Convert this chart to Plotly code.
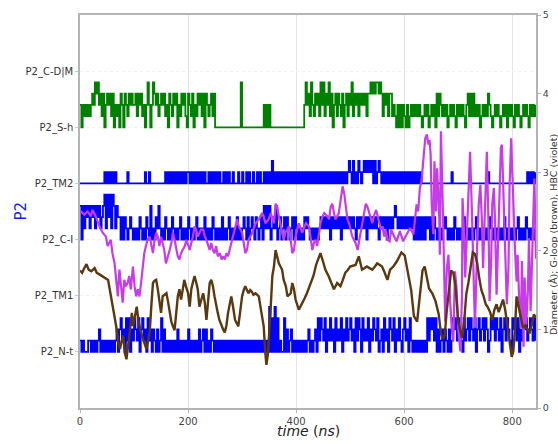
import plotly.graph_objects as go

# ---------------- data ----------------
STEP_NS = 2.5   # sampling of the state traces (ns)

STATE_LABELS = ["P2_N-t", "P2_TM1", "P2_C-I", "P2_TM2", "P2_S-h", "P2_C-D|M"]
STATE_TICKS = [0, 1, 2, 3, 4, 5]
X_TICKS = [0, 200, 400, 600, 800]
Y2_TICKS = [0, 1, 2, 3, 4, 5]

# state traces: one digit per 2.5 ns; digit d -> base level + 0.2*d
GREEN_BASE = 4
GREEN_ROWS = [
    "2021212123" "2434231302" "3231302120" "3203213232",
    "2313231202" "4202432312" "3231203213" "2302132310",
    "3213021323" "1303212313" "0000000000" "0000000004",
    "0000000000" "0000002020" "2000000000" "0000000000",
    "0000002423" "1421323142" "4132413023" "1321302313",
    "2413231323" "2313343434" "4343132313" "3121020202",
    "1020121212" "1210121201" "2120313212" "1201212102",
    "1212102313" "1312120121" "2132101212" "1012120212",
    "102121012121021212",
]

TM2_BASE = 3
TM2_ROWS = [
    "0000000000" "0000000010" "1010101000" "0000010000",
    "0000000010" "0100000000" "0001010101" "0101010101",
    "1010101010" "1010010101" "0101001010" "1001000100",
    "1001010010" "0101001010" "1020101010" "1010101010",
    "1010101010" "1010101010" "1010101010" "1010101012",
    "1020102101" "2121212020" "1210101010" "1010101010",
    "1010101010" "1010000000" "0000000000" "0000010000",
    "0000000000" "0000000000" "0010000000" "0000000000",
    "000000000001010101",
]

CI_BASE = 2
CI_ROWS = [
    "30313" "23132313231" "23" "4142414" "3132" "20202" "101210",
    "1010210102" "1030102131" "0102101021" "0101201010",
    "2101012010" "1020101021" "0101020101" "2010102010",
    "1210201210" "2101203131" "3012130120" "1202101202",
    "1010102121" "0101010121" "2121202121" "2120212121",
    "2121021212" "1202121212" "1021212021" "2123212121",
    "2121212020" "2020202120" "2021010101" "2101010210",
    "1010201010" "1012010101" "0102101010" "1010210101",
    "010120101021010101",
]

NT_BASE = 0
NT_ROWS = [
    "1010001101" "0101201010" "1010101202" "3120313021",
    "3213023120" "3120210201" "3020101010" "1020101010",
    "2010101020" "1202010210" "1010101010" "1010101010",
    "1010101010" "1010101010" "4030403010" "0302012010",
    "1010101012" "0101203132" "1302131203" "1213021312",
    "3120313203" "1213021321" "3012031203" "2130213102",
    "3120310101" "0101010313" "2313020120" "2102013231",
    "3210312313" "2130231231" "3201323132" "1302313210",
    "323130213231232131",
]

# G-loop diameter (brown), right axis
BROWN_T = [0, 4, 8, 12, 16, 21, 27, 31, 36, 41, 46, 52, 55, 58, 61, 64, 67, 71, 74, 77,
           80, 83, 86, 89, 92, 96, 98, 102, 105, 108, 112, 117, 120, 123, 126, 129, 132, 135, 138, 141,
           144, 147, 150, 153, 157, 160, 163, 166, 169, 172, 175, 178, 181, 184, 187, 190, 193, 196, 200, 203,
           206, 209, 212, 215, 218, 221, 224, 228, 231, 234, 237, 240, 243, 246, 249, 252, 255, 258, 262, 265,
           268, 271, 274, 277, 280, 283, 287, 290, 293, 296, 300, 303, 306, 309, 312, 315, 318, 321, 325, 328,
           331, 334, 337, 340, 343, 345, 348, 351, 353, 356, 359, 362, 365, 368, 371, 374, 377, 381, 384, 387,
           390, 393, 396, 399, 402, 405, 408, 412, 416, 420, 426, 432, 437, 442, 445, 450, 454, 460, 465, 470,
           476, 482, 486, 491, 496, 500, 505, 510, 516, 522, 527, 531, 536, 541, 546, 550, 555, 559, 564, 569,
           574, 580, 586, 590, 595, 601, 607, 613, 618, 624, 627, 630, 634, 638, 642, 646, 652, 658, 664, 668,
           671, 675, 679, 683, 687, 691, 695, 700, 704, 707, 711, 715, 719, 723, 727, 731, 735, 739, 743, 747,
           751, 755, 759, 763, 767, 771, 775, 779, 783, 787, 791, 795, 799, 802, 805, 808, 812, 816, 820, 824,
           828, 832, 836, 840, 844]
BROWN_V = [1.75, 1.72, 1.78, 1.83, 1.76, 1.74, 1.78, 1.72, 1.70, 1.68, 1.66, 1.63, 1.51, 1.40, 1.29, 1.15, 1.04, 0.83, 0.75, 0.85,
           0.92, 0.70, 0.62, 0.79, 1.00, 1.21, 1.04, 1.20, 1.29, 1.12, 0.98, 0.87, 0.80, 0.75, 0.85, 0.96, 1.30, 1.59, 1.62, 1.63,
           1.51, 1.35, 1.21, 1.42, 1.44, 1.46, 1.35, 1.21, 1.10, 1.04, 0.99, 1.20, 1.42, 1.51, 1.38, 1.50, 1.63, 1.55, 1.46, 1.29,
           1.51, 1.60, 1.68, 1.60, 1.51, 1.29, 1.38, 1.46, 1.34, 1.12, 1.35, 1.59, 1.63, 1.55, 1.42, 1.30, 1.21, 1.12, 1.04, 1.00,
           0.96, 1.05, 1.21, 1.32, 1.42, 1.30, 1.12, 1.08, 1.04, 1.20, 1.42, 1.50, 1.55, 1.50, 1.46, 1.50, 1.48, 1.44, 1.46, 1.44,
           1.42, 1.29, 1.15, 1.04, 0.70, 0.55, 0.70, 1.00, 1.29, 1.68, 1.80, 2.01, 1.92, 1.84, 1.80, 1.76, 1.63, 1.55, 1.42, 1.44,
           1.46, 1.59, 1.51, 1.38, 1.30, 1.25, 1.29, 1.34, 1.40, 1.46, 1.57, 1.68, 1.82, 1.93, 1.97, 1.86, 1.76, 1.68, 1.60, 1.51,
           1.59, 1.55, 1.62, 1.72, 1.76, 1.80, 1.81, 1.82, 1.93, 1.76, 1.78, 1.80, 1.78, 1.76, 1.80, 1.84, 1.82, 1.80, 1.72, 1.63,
           1.76, 1.80, 1.86, 1.92, 1.98, 1.94, 1.70, 1.50, 1.17, 1.10, 1.30, 1.51, 1.75, 1.80, 1.65, 1.52, 1.46, 1.36, 1.19, 0.95,
           0.88, 0.92, 1.25, 1.55, 1.75, 1.72, 1.55, 1.10, 0.95, 0.89, 1.10, 1.45, 1.60, 1.80, 1.98, 1.96, 1.85, 1.65, 1.50, 1.42,
           1.32, 1.28, 1.22, 1.12, 1.25, 1.32, 1.22, 1.30, 1.38, 1.25, 1.05, 0.85, 0.65, 0.72, 1.00, 1.42, 1.30, 1.15, 1.02, 1.05,
           1.00, 0.95, 1.05, 1.19, 1.15]

# HBC diameter (violet), right axis
VIOLET_T = [0, 2, 8, 14, 20, 23, 29, 36, 42, 48, 51, 54, 57, 60, 64, 67, 70, 73, 76, 79,
            82, 85, 88, 91, 94, 98, 101, 104, 107, 110, 113, 116, 119, 122, 125, 129, 132, 135, 138, 141,
            144, 147, 150, 153, 156, 159, 163, 166, 169, 172, 175, 178, 181, 184, 187, 190, 194, 197, 200, 203,
            206, 209, 212, 215, 218, 221, 224, 228, 231, 234, 237, 240, 243, 246, 249, 252, 255, 259, 262, 265,
            268, 271, 274, 277, 281, 287, 291, 294, 300, 306, 309, 312, 319, 325, 331, 337, 340, 343, 349, 353,
            359, 362, 365, 368, 371, 374, 377, 380, 387, 390, 393, 396, 399, 402, 405, 411, 418, 424, 427, 430,
            433, 436, 439, 442, 445, 449, 452, 458, 461, 464, 467, 470, 473, 479, 483, 486, 489, 492, 495, 498,
            501, 504, 510, 514, 517, 520, 523, 526, 529, 532, 535, 538, 541, 544, 548, 551, 554, 557, 560, 563,
            566, 569, 573, 576, 580, 586, 592, 598, 604, 611, 617, 620, 623, 626, 629, 632, 635, 639, 642, 645,
            647, 649, 651, 654, 656, 659, 661, 665, 666, 668, 671, 674, 676, 679, 682, 685, 688, 691, 694, 697,
            700, 704, 707, 708, 711, 713, 716, 719, 722, 725, 728, 731, 735, 738, 741, 744, 746, 748, 751, 753,
            756, 758, 761, 763, 766, 768, 771, 773, 777, 779, 781, 784, 787, 790, 793, 795, 798, 801, 805, 808,
            810, 813, 816, 818, 821, 823, 826, 829, 831, 834, 837, 839, 841, 844]
VIOLET_V = [2.50, 2.50, 2.46, 2.50, 2.44, 2.52, 2.44, 2.31, 2.23, 2.18, 2.06, 2.10, 2.14, 1.97, 1.84, 1.63, 1.42, 1.76, 1.51, 1.34,
            1.63, 1.55, 1.59, 1.68, 1.51, 1.80, 1.55, 1.42, 1.51, 1.42, 1.59, 1.76, 1.97, 2.06, 2.14, 2.18, 2.06, 1.97, 2.14, 2.23,
            2.18, 2.06, 2.18, 2.10, 2.01, 1.84, 1.93, 2.01, 2.10, 2.23, 2.14, 2.01, 1.93, 1.89, 1.97, 2.01, 2.06, 2.14, 2.06, 2.01,
            2.10, 2.18, 2.31, 2.27, 2.18, 2.23, 2.27, 2.27, 2.18, 2.14, 2.06, 2.01, 2.10, 2.01, 1.97, 2.06, 1.93, 1.97, 1.89, 1.93,
            1.89, 1.97, 1.93, 2.01, 2.14, 2.31, 2.40, 2.31, 2.23, 1.97, 2.01, 2.14, 2.23, 2.35, 2.40, 2.48, 2.44, 2.35, 2.40, 2.48,
            2.35, 2.60, 2.56, 2.44, 2.35, 2.27, 2.14, 2.23, 2.31, 2.14, 1.97, 2.01, 2.18, 2.27, 2.35, 2.23, 2.35, 2.31, 2.14, 2.01,
            2.10, 2.14, 2.06, 2.23, 2.35, 2.44, 2.48, 2.44, 2.40, 2.56, 2.60, 2.48, 2.40, 2.48, 2.69, 2.82, 2.73, 2.52, 2.40, 2.35,
            2.27, 2.18, 2.10, 2.01, 2.14, 2.27, 2.40, 2.52, 2.60, 2.56, 2.48, 2.40, 2.35, 2.44, 2.52, 2.44, 2.35, 2.27, 2.31, 2.18,
            2.27, 2.14, 2.12, 2.27, 2.20, 2.12, 2.25, 2.12, 2.20, 2.29, 2.21, 2.37, 2.59, 2.50, 2.80, 2.88, 3.14, 3.43, 3.48, 3.35,
            3.41, 3.22, 2.59, 2.21, 3.14, 2.50, 3.05, 2.41, 1.95, 3.52, 2.71, 1.44, 1.10, 1.78, 1.95, 1.36, 1.02, 0.85, 1.74, 1.53,
            1.02, 0.72, 1.44, 2.67, 2.21, 1.66, 2.21, 2.71, 3.26, 2.59, 1.61, 1.02, 2.04, 2.59, 2.84, 2.37, 1.78, 2.25, 2.92, 3.26,
            2.37, 1.36, 1.87, 2.59, 2.80, 2.42, 1.44, 1.99, 2.88, 3.31, 3.35, 2.71, 2.00, 1.32, 1.78, 2.80, 3.43, 2.75, 2.03, 1.61,
            1.95, 1.36, 1.02, 1.87, 0.78, 1.66, 1.06, 1.49, 2.16, 1.23, 1.99, 2.59, 2.92, 1.90]


def decode(rows, base):
    s = "".join(rows)
    t = [STEP_NS * i for i in range(len(s))]
    v = [base + 0.2 * int(c) for c in s]
    return t, v


green_t, green_v = decode(GREEN_ROWS, GREEN_BASE)
tm2_t, tm2_v = decode(TM2_ROWS, TM2_BASE)
ci_t, ci_v = decode(CI_ROWS, CI_BASE)
nt_t, nt_v = decode(NT_ROWS, NT_BASE)

# ---------------- figure ----------------
fig = go.Figure()

BLUE = "#0000ff"
for tt, vv, col in [(tm2_t, tm2_v, BLUE), (ci_t, ci_v, BLUE), (nt_t, nt_v, BLUE),
                    (green_t, green_v, "#008000")]:
    fig.add_trace(go.Scatter(x=tt, y=vv, mode="lines", yaxis="y",
                             line=dict(color=col, width=1.8, shape="hv", simplify=False),
                             showlegend=False, hoverinfo="skip"))

fig.add_trace(go.Scatter(x=VIOLET_T, y=VIOLET_V, mode="lines", yaxis="y2",
                         line=dict(color="#c63ce8", width=2.2),
                         showlegend=False))
fig.add_trace(go.Scatter(x=BROWN_T, y=BROWN_V, mode="lines", yaxis="y2",
                         line=dict(color="#5a3810", width=2.4),
                         showlegend=False))

AX_LINE = "#b4b4b4"
fig.update_layout(
    width=558, height=444,
    margin=dict(l=80, r=22, t=15, b=36, autoexpand=False),
    paper_bgcolor="white", plot_bgcolor="white",
    font=dict(family="DejaVu Sans", size=10, color="#333333"),
    xaxis=dict(
        range=[0, 844], tickvals=X_TICKS, showgrid=True, gridcolor="#e4e4e4", gridwidth=1,
        zeroline=False, showline=True, linecolor=AX_LINE, linewidth=1.5, mirror=True,
        ticks="outside", ticklen=3, tickcolor=AX_LINE, automargin=False,
        tickfont=dict(size=10, color="#444444"),
    ),
    yaxis=dict(
        range=[-1, 6], tickvals=STATE_TICKS, ticktext=STATE_LABELS,
        showgrid=True, gridcolor="#f0f0f0", griddash="dot", gridwidth=1,
        zeroline=False, showline=True, linecolor=AX_LINE, linewidth=1.5, mirror=True,
        ticks="outside", ticklen=3, tickcolor="#cccccc", automargin=False,
        tickfont=dict(size=10, color="#333333"),
    ),
    yaxis2=dict(
        range=[0, 5], tickvals=Y2_TICKS, overlaying="y", side="right",
        showgrid=False, zeroline=False, showline=True, linecolor=AX_LINE, linewidth=1.5,
        ticks="outside", ticklen=3, tickcolor=AX_LINE, automargin=False,
        tickfont=dict(size=9.5, color="#444444"),
    ),
    annotations=[
        dict(text="Diameter (Å); G-loop (brown), HBC (violet)",
             xref="paper", yref="paper", x=1.0, y=0.44, xshift=17, xanchor="center", yanchor="middle",
             textangle=-90, showarrow=False, font=dict(size=9.5, color="#333333")),
        dict(text="P2", xref="paper", yref="paper", x=0.0, y=0.5, xshift=-60,
             xanchor="center", yanchor="middle", textangle=-90, showarrow=False,
             font=dict(size=15, color="#1a1aee")),
        dict(text="<i>time</i> (<i>ns</i>)", xref="paper", yref="paper", x=0.5, y=0.0, yshift=-23,
             xanchor="center", yanchor="middle", showarrow=False,
             font=dict(size=14, color="#222222")),
    ],
)

# remove the default page margin / scrollbars so the figure fills the window exactly
fig.write_html("out.html", config={"displayModeBar": False},
               post_script="document.body.style.margin='0px';document.body.style.overflow='hidden';")
